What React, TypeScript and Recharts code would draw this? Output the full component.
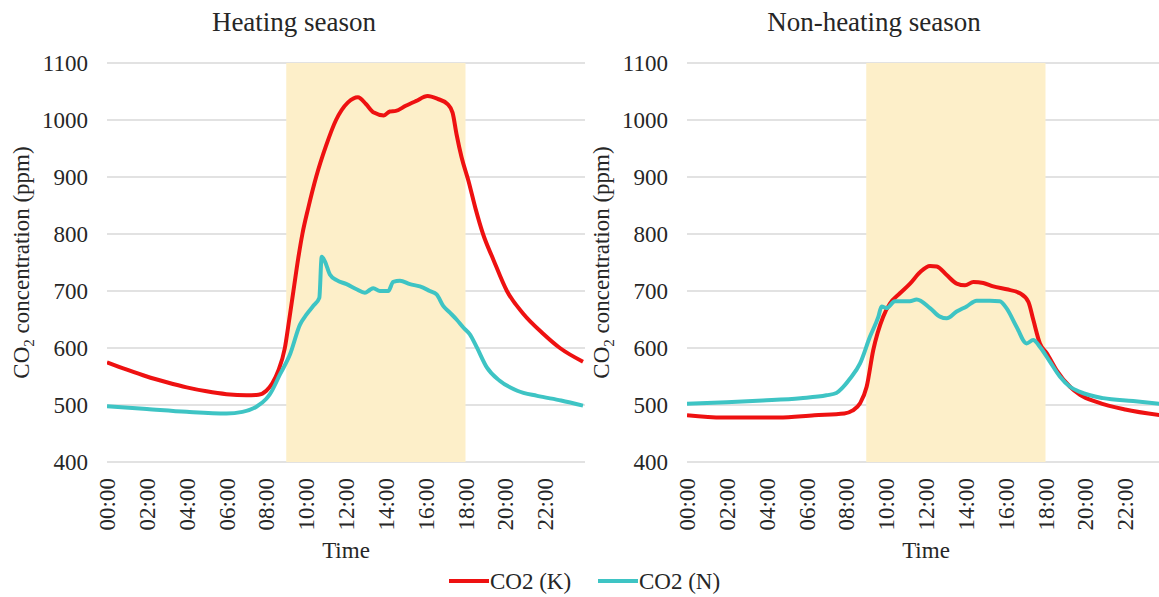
import React from 'react';
import {
    LineChart, Line, XAxis, YAxis, CartesianGrid, ReferenceArea,
} from 'recharts';

// hours of day / CO2 readings (ppm)
const HEAT_K_HOURS = [0, 1, 2, 3, 4, 5, 6, 7, 7.6, 8, 8.3, 8.6, 8.93, 9.15, 9.36, 9.6, 9.81, 10.1, 10.5, 11.0, 11.5, 12.1, 12.6, 13.0, 13.4, 13.9, 14.2, 14.5, 15.0, 15.5, 16.1, 16.6, 17.1, 17.35, 17.55, 17.8, 18.15, 18.5, 18.88, 19.4, 20.08, 20.9, 21.9, 22.74, 23.9];
const HEAT_K_VALUES = [575, 562, 550, 540, 531, 524, 519, 517, 518, 525, 538, 560, 600, 650, 700, 757, 800, 845, 900, 955, 1000, 1031, 1040, 1028, 1013, 1008, 1015, 1016, 1025, 1033, 1042, 1037, 1028, 1013, 975, 935, 893, 845, 800, 755, 700, 660, 625, 600, 576];

const HEAT_N_HOURS = [0, 2, 4, 6, 6.8, 7.5, 8.0, 8.18, 8.69, 9.19, 9.69, 10.02, 10.36, 10.66, 10.78, 10.94, 11.19, 11.53, 12.03, 12.53, 12.95, 13.2, 13.37, 13.7, 14.12, 14.37, 14.71, 15.21, 15.71, 16.21, 16.55, 16.88, 17.22, 17.55, 17.89, 18.22, 18.57, 19.07, 19.7, 20.6, 21.6, 22.8, 23.9];
const HEAT_N_VALUES = [498, 493, 488, 485, 488, 497, 511, 519, 554, 589, 641, 659, 674, 688, 760, 752, 729, 719, 712, 703, 697, 702, 705, 700, 700, 716, 718, 712, 708, 700, 694, 674, 662, 650, 636, 624, 601, 566, 543, 525, 516, 508, 499];

const NONHEAT_K_HOURS = [0, 1.8, 4.6, 6.4, 7.9, 8.3, 8.69, 9.02, 9.35, 9.85, 10.19, 10.69, 11.2, 11.7, 12.2, 12.54, 13.04, 13.54, 13.96, 14.38, 14.88, 15.38, 16.05, 16.72, 17.14, 17.39, 17.72, 18.06, 18.56, 19.23, 19.73, 20.6, 22.0, 23.8];
const NONHEAT_K_VALUES = [482, 478, 478, 482, 485, 490, 503, 532, 596, 655, 678, 696, 713, 733, 744, 743, 728, 713, 710, 716, 714, 708, 703, 696, 681, 649, 608, 591, 561, 532, 518, 505, 492, 482];

const NONHEAT_N_HOURS = [0, 2, 3.8, 5.7, 7.0, 7.5, 7.8, 8.18, 8.69, 9.19, 9.61, 9.77, 10.02, 10.44, 11.19, 11.53, 12.2, 12.7, 13.04, 13.54, 14.04, 14.54, 15.2, 15.7, 16.04, 16.55, 17.05, 17.38, 17.72, 18.22, 18.72, 19.23, 19.73, 20.9, 22.4, 23.8];
const NONHEAT_N_VALUES = [502, 505, 508, 512, 517, 521, 530, 546, 573, 620, 655, 673, 670, 682, 682, 685, 670, 655, 652, 664, 673, 683, 683, 682, 670, 637, 608, 614, 602, 576, 550, 532, 523, 512, 507, 502];

const Y_TICKS = [400, 500, 600, 700, 800, 900, 1000, 1100];
const X_TICKS = [0, 2, 4, 6, 8, 10, 12, 14, 16, 18, 20, 22];
const OCCUPIED = [9, 18];

const RED = '#EE1111';
const TEAL = '#3EC4C4';
const FONT = '"Liberation Serif", "Times New Roman", serif';
const TEXT = '#262626';
const serif = { fontFamily: FONT };

const toPoints = (hours: number[], values: number[]) =>
    hours.map((h, i) => ({ h, v: values[i] }));

const fmtHour = (h: number) => `${String(h).padStart(2, '0')}:00`;

function TimeTick({ x, y, payload }: any) {
    return (
        <g transform={`translate(${x},${y})`}>
            <text x={-16} y={0} dy={8} transform="rotate(-90)" textAnchor="end"
                fontSize={23} style={serif} fill={TEXT}>
                {fmtHour(payload.value)}
            </text>
        </g>
    );
}

function ValueTick({ x, y, payload }: any) {
    return (
        <text x={x} y={y} dy={8} textAnchor="end" fontSize={23} style={serif} fill={TEXT}>
            {payload.value}
        </text>
    );
}

function SeasonPanel({ title, k, n, left }: { title: string; k: any[]; n: any[]; left: number }) {
    return (
        <div style={{ position: 'absolute', left, top: 0, width: 600, height: 597 }}>
            <div style={{
                position: 'absolute', left: 0, width: 588, top: 7, textAlign: 'center',
                fontFamily: FONT, fontSize: 27, lineHeight: '30px', color: TEXT,
            }}>{title}</div>
            <LineChart width={600} height={597} margin={{ top: 63, right: 15, bottom: 0, left: 0 }}>
                <CartesianGrid vertical={false} stroke="#D9D9D9" strokeWidth={1.3} />
                <XAxis
                    type="number" dataKey="h" domain={[0, 24]} ticks={X_TICKS}
                    allowDataOverflow height={135} axisLine={false} tickLine={false}
                    tickSize={0} tickMargin={0} tick={<TimeTick />} interval={0}
                    label={{
                        content: ({ viewBox }: any) => (
                            <text x={viewBox.x + viewBox.width / 2} y={viewBox.y + 96}
                                textAnchor="middle" fontSize={23} style={serif} fill={TEXT}>Time</text>
                        ),
                    }}
                />
                <YAxis
                    domain={[400, 1100]} ticks={Y_TICKS} width={107}
                    axisLine={false} tickLine={false} tickSize={0} tickMargin={19}
                    tick={<ValueTick />}
                    label={{
                        content: ({ viewBox }: any) => (
                            <text transform={`translate(29,${viewBox.y + viewBox.height / 2}) rotate(-90)`}
                                textAnchor="middle" fontSize={23} style={serif} fill={TEXT}>
                                CO<tspan fontSize={15} dy={5}>2</tspan><tspan dy={-5}> concentration (ppm)</tspan>
                            </text>
                        ),
                    }}
                />
                <ReferenceArea x1={OCCUPIED[0]} x2={OCCUPIED[1]} y1={400} y2={1100}
                    fill="#FDEFC9" fillOpacity={1} stroke="none" />
                <Line data={k} dataKey="v" type="monotone" stroke={RED} strokeWidth={4}
                    dot={false} isAnimationActive={false} strokeLinejoin="round" />
                <Line data={n} dataKey="v" type="monotone" stroke={TEAL} strokeWidth={4}
                    dot={false} isAnimationActive={false} strokeLinejoin="round" />
            </LineChart>
        </div>
    );
}

function LegendItem({ color, label, left }: { color: string; label: string; left: number }) {
    return (
        <>
            <div style={{ position: 'absolute', left, top: 579, width: 40, height: 4, background: color }} />
            <div style={{
                position: 'absolute', left: left + 41, top: 569, fontFamily: FONT,
                fontSize: 23, lineHeight: '26px', color: TEXT, whiteSpace: 'nowrap',
            }}>{label}</div>
        </>
    );
}

export default function App() {
    return (
        <div style={{
            position: 'absolute', left: 0, top: 0, width: 1159, height: 597,
            overflow: 'hidden', background: '#fff', fontFamily: FONT,
        }}>
            <SeasonPanel title="Heating season" left={0}
                k={toPoints(HEAT_K_HOURS, HEAT_K_VALUES)} n={toPoints(HEAT_N_HOURS, HEAT_N_VALUES)} />
            <SeasonPanel title="Non-heating season" left={580}
                k={toPoints(NONHEAT_K_HOURS, NONHEAT_K_VALUES)} n={toPoints(NONHEAT_N_HOURS, NONHEAT_N_VALUES)} />
            <LegendItem color={RED} label="CO2 (K)" left={449} />
            <LegendItem color={TEAL} label="CO2 (N)" left={598} />
        </div>
    );
}
